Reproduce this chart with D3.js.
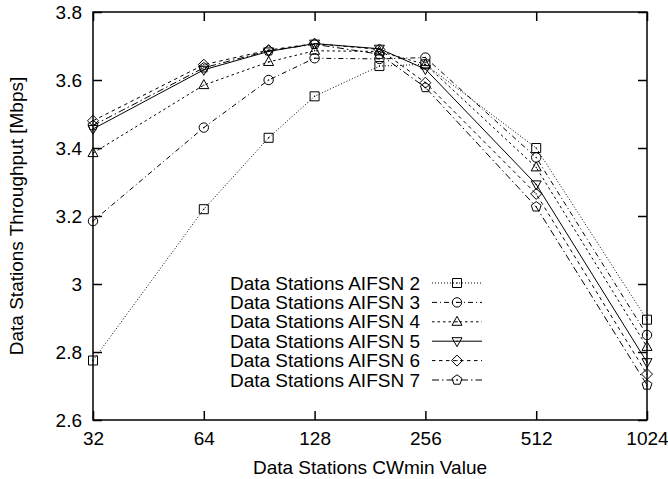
<!DOCTYPE html>
<html>
<head>
<meta charset="utf-8">
<script src="https://cdn.jsdelivr.net/npm/d3@7"></script>
<style>
  html, body { margin: 0; padding: 0; background: #fff; }
  svg { display: block; }
  text { font-family: "Liberation Sans", Arial, Helvetica, sans-serif; fill: #000; }
</style>
</head>
<body>
<svg id="chart" width="668" height="479"></svg>
<script>
// CWmin values on the x axis (log2 spacing)
const cwmin = [32, 64, 96, 128, 192, 256, 512, 1024];
const xTicks = [32, 64, 128, 256, 512, 1024];
const yTicks = [2.6, 2.8, 3.0, 3.2, 3.4, 3.6, 3.8];
const yTickLabels = ["2.6", "2.8", "3", "3.2", "3.4", "3.6", "3.8"];

// Throughput [Mbps] per AIFSN setting
const aifsn2 = [2.775, 3.22, 3.43, 3.552, 3.641, 3.646, 3.400, 2.895];
const aifsn3 = [3.185, 3.46, 3.600, 3.664, 3.662, 3.666, 3.372, 2.850];
const aifsn4 = [3.385, 3.585, 3.653, 3.686, 3.684, 3.646, 3.343, 2.815];
const aifsn5 = [3.456, 3.630, 3.684, 3.707, 3.692, 3.632, 3.293, 2.770];
const aifsn6 = [3.480, 3.645, 3.688, 3.707, 3.690, 3.592, 3.265, 2.735];
const aifsn7 = [3.466, 3.636, 3.686, 3.705, 3.676, 3.578, 3.227, 2.703];

const seriesNames = [
  "Data Stations AIFSN 2", "Data Stations AIFSN 3", "Data Stations AIFSN 4",
  "Data Stations AIFSN 5", "Data Stations AIFSN 6", "Data Stations AIFSN 7"
];
const seriesValues = [aifsn2, aifsn3, aifsn4, aifsn5, aifsn6, aifsn7];
const dashes = ["1,2", "5,3,1,3", "2.5,3", null, "3.5,3.5", "7,3,1.5,3"];
const markers = ["square", "circle", "triangle", "triangleDown", "diamond", "pentagon"];

const svg = d3.select("#chart");
const plotLeft = 93, plotRight = 647, plotTop = 12, plotBottom = 420;
const FONT = 19;

const x = d3.scaleLog().base(2).domain([32, 1024]).range([plotLeft, plotRight]);
const y = d3.scaleLinear().domain([2.6, 3.8]).range([plotBottom, plotTop]);

// marker outlines, centred on the origin
function markerPath(type) {
  const p = d3.path();
  if (type === "square") {
    p.rect(-4.5, -4.5, 9, 9);
  } else if (type === "circle") {
    p.moveTo(4.7, 0); p.arc(0, 0, 4.7, 0, 2 * Math.PI);
  } else if (type === "triangle") {
    p.moveTo(0, -5.5); p.lineTo(5, 3.5); p.lineTo(-5, 3.5); p.closePath();
  } else if (type === "triangleDown") {
    p.moveTo(0, 5.5); p.lineTo(5, -3.5); p.lineTo(-5, -3.5); p.closePath();
  } else if (type === "diamond") {
    p.moveTo(0, -5.5); p.lineTo(5.5, 0); p.lineTo(0, 5.5); p.lineTo(-5.5, 0); p.closePath();
  } else if (type === "pentagon") {
    for (let i = 0; i < 5; i++) {
      const a = -Math.PI / 2 + i * 2 * Math.PI / 5;
      const px = 5.2 * Math.cos(a), py = 5.2 * Math.sin(a);
      if (i === 0) p.moveTo(px, py); else p.lineTo(px, py);
    }
    p.closePath();
  }
  return p.toString();
}

function drawMarker(g, type, cx, cy) {
  const m = g.append("g").attr("transform", `translate(${cx},${cy})`);
  m.append("path").attr("d", markerPath(type))
    .attr("fill", "none").attr("stroke", "#000").attr("stroke-width", 1);
  m.append("circle").attr("r", 0.7).attr("fill", "#000");
}

// series lines and markers
const line = d3.line().x((d, i) => x(cwmin[i])).y(d => y(d));
const plot = svg.append("g");
seriesValues.forEach((vals, s) => {
  plot.append("path").datum(vals).attr("d", line)
    .attr("fill", "none").attr("stroke", "#000").attr("stroke-width", 1)
    .attr("stroke-dasharray", dashes[s]);
});
seriesValues.forEach((vals, s) => {
  vals.forEach((v, i) => drawMarker(plot, markers[s], x(cwmin[i]), y(v)));
});

// axes with inward ticks, mirrored on top and right
const xAxis = d3.axisBottom(x).tickValues(xTicks).tickFormat(d3.format("d"))
  .tickSizeInner(-9).tickSizeOuter(0).tickPadding(12);
const yAxis = d3.axisLeft(y).tickValues(yTicks).tickFormat((d, i) => yTickLabels[i])
  .tickSizeInner(-9).tickSizeOuter(0).tickPadding(11);
const xTop = d3.axisTop(x).tickValues(xTicks).tickFormat("").tickSizeInner(-9).tickSizeOuter(0);
const yRight = d3.axisRight(y).tickValues(yTicks).tickFormat("").tickSizeInner(-9).tickSizeOuter(0);

function styleAxis(g) {
  g.select(".domain").remove();
  g.selectAll(".tick line").attr("stroke", "#000").attr("stroke-width", 1.5);
  g.selectAll(".tick text").style("font-size", FONT + "px")
    .style("font-family", '"Liberation Sans", Arial, Helvetica, sans-serif').attr("fill", "#000");
}
svg.append("g").attr("transform", `translate(0,${plotBottom})`).call(xAxis).call(styleAxis);
svg.append("g").attr("transform", `translate(${plotLeft},0)`).call(yAxis).call(styleAxis);
svg.append("g").attr("transform", `translate(0,${plotTop})`).call(xTop).call(styleAxis);
svg.append("g").attr("transform", `translate(${plotRight},0)`).call(yRight).call(styleAxis);

svg.append("rect").attr("x", plotLeft).attr("y", plotTop)
  .attr("width", plotRight - plotLeft).attr("height", plotBottom - plotTop)
  .attr("fill", "none").attr("stroke", "#000").attr("stroke-width", 1.5);

// axis titles
svg.append("text").attr("x", (plotLeft + plotRight) / 2).attr("y", 474)
  .attr("text-anchor", "middle").style("font-size", FONT + "px")
  .text("Data Stations CWmin Value");
svg.append("text").attr("transform", `translate(23,${(plotTop + plotBottom) / 2}) rotate(-90)`)
  .attr("text-anchor", "middle").style("font-size", FONT + "px")
  .text("Data Stations Throughput [Mbps]");

// legend
const legend = svg.append("g");
seriesNames.forEach((name, s) => {
  const ly = 283 + s * 19.4;
  legend.append("text").attr("x", 420).attr("y", ly).attr("dy", "0.35em")
    .attr("text-anchor", "end").style("font-size", FONT + "px").text(name);
  legend.append("line").attr("x1", 432).attr("x2", 482).attr("y1", ly).attr("y2", ly)
    .attr("stroke", "#000").attr("stroke-width", 1).attr("stroke-dasharray", dashes[s]);
  drawMarker(legend, markers[s], 457, ly);
});
</script>
</body>
</html>
